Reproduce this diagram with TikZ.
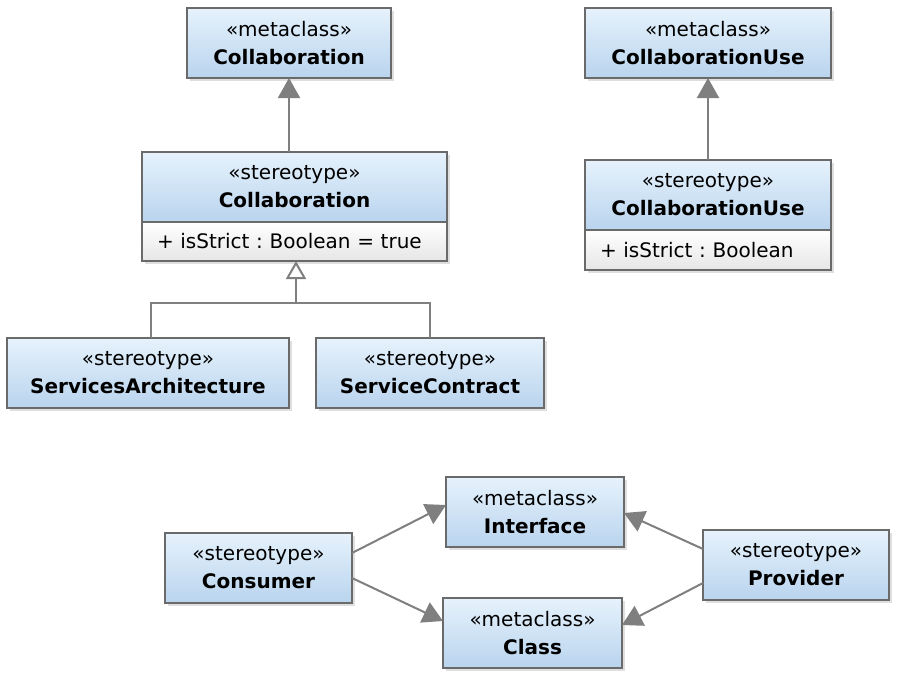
\documentclass[tikz,border=0pt]{standalone}
\usepackage{fontspec}
\setmainfont{DejaVu Sans}
\usetikzlibrary{calc, positioning, shadows, arrows.meta}

\definecolor{boxtop}{HTML}{E6F2FC}
\definecolor{boxbottom}{HTML}{B9D4EE}
\definecolor{boxline}{HTML}{6A6A6A}
\definecolor{attrgray}{HTML}{E6E6E6}
\definecolor{linkgray}{HTML}{7F7F7F}

\tikzset{
  umlbox/.style={draw=boxline, line width=0.9pt, top color=boxtop, bottom color=boxbottom,
    align=center, inner sep=0pt, outer sep=0pt, minimum height=35pt,
    font=\fontsize{10}{14}\selectfont,
    drop shadow={opacity=0.25, shadow xshift=1.5pt, shadow yshift=-1.5pt}},
  attrbox/.style={draw=boxline, line width=0.9pt, top color=white, bottom color=attrgray,
    align=left, text width=#1, inner xsep=7.5pt, inner ysep=0pt, outer sep=0pt, minimum height=19.5pt,
    font=\fontsize{10}{12}\selectfont\frenchspacing,
    drop shadow={opacity=0.25, shadow xshift=1.5pt, shadow yshift=-1.5pt}},
  ext/.style={draw=linkgray, line width=1pt, -{Triangle[width=11pt,length=10pt]}},
  gen/.style={draw=linkgray, line width=1pt, -{Triangle[open,width=10pt,length=9pt,fill=white]}}
}

\begin{document}
\begin{tikzpicture}[x=0.5pt, y=-0.5pt]
\useasboundingbox (0,0) rectangle (898,675);

% collaboration
\node[umlbox, minimum width=102pt] (mcCollab) at (289,43) {«metaclass»\\\textbf{Collaboration}};
\node[umlbox, minimum width=152.5pt] (stCollab) at (294.5,187) {«stereotype»\\\textbf{Collaboration}};
\node[attrbox=137.5pt, below=0pt of stCollab] (stCollabAttr) {+ isStrict : Boolean = true};
\draw[ext] (stCollab.north -| mcCollab) -- (mcCollab.south);

\node[umlbox, minimum width=141pt] (servArch) at (148,373) {«stereotype»\\\textbf{ServicesArchitecture}};
\node[umlbox, minimum width=114pt] (servContr) at (430,373) {«stereotype»\\\textbf{ServiceContract}};
\coordinate (genJoin) at (296,303);
\draw[linkgray, line width=1pt] (servArch.north -| 151,0) |- (genJoin) -| (servContr.north);
\draw[gen] (genJoin) -- (genJoin |- stCollabAttr.south);

% collaboration use
\node[umlbox, minimum width=123pt] (mcCollabUse) at (708,43) {«metaclass»\\\textbf{CollaborationUse}};
\node[umlbox, minimum width=123pt] (stCollabUse) at (708,195) {«stereotype»\\\textbf{CollaborationUse}};
\node[attrbox=108pt, below=0pt of stCollabUse, minimum height=20pt] (stCollabUseAttr) {+ isStrict : Boolean};
\draw[ext] (stCollabUse.north) -- (mcCollabUse.south);

% consumer / provider
\node[umlbox, minimum width=89pt] (iface) at (535,512) {«metaclass»\\\textbf{Interface}};
\node[umlbox, minimum width=89.5pt] (cls) at (532.5,633) {«metaclass»\\\textbf{Class}};
\node[umlbox, minimum width=93.5pt] (consumer) at (258.5,568) {«stereotype»\\\textbf{Consumer}};
\node[umlbox, minimum width=93pt] (provider) at (796,565) {«stereotype»\\\textbf{Provider}};
\draw[ext] ($(consumer.east)+(0,-15)$) -- ($(iface.west)+(0,-7)$);
\draw[ext] ($(consumer.east)+(0,10)$) -- ($(cls.west)+(0,-12)$);
\draw[ext] ($(provider.west)+(0,-16)$) -- ($(iface.east)+(0,1)$);
\draw[ext] ($(provider.west)+(0,18)$) -- ($(cls.east)+(0,-8)$);
\end{tikzpicture}
\end{document}
